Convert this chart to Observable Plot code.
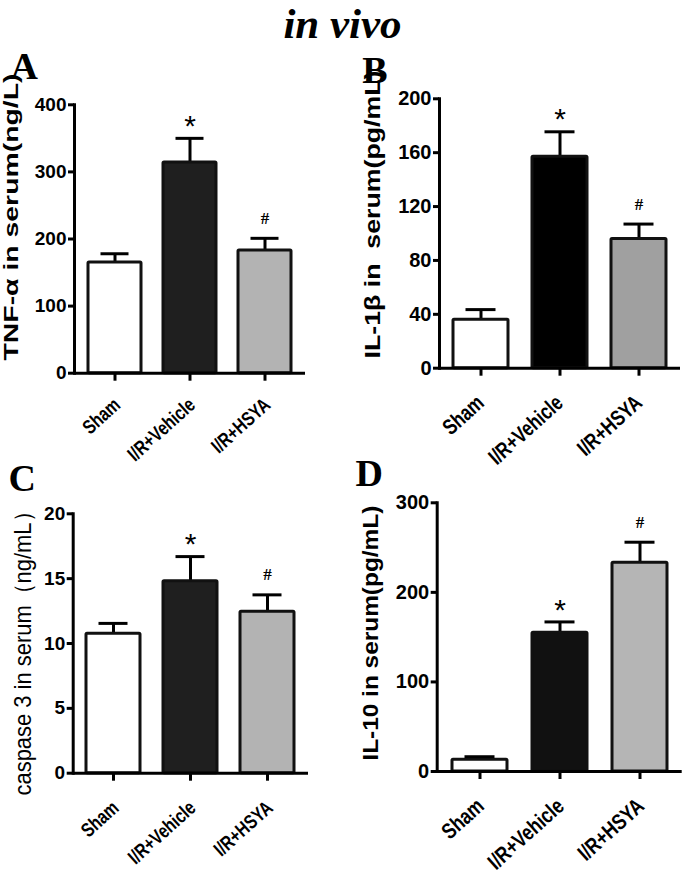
<!DOCTYPE html>
<html><head><meta charset="utf-8">
<script src="https://cdn.jsdelivr.net/npm/d3@7"></script>
<script src="https://cdn.jsdelivr.net/npm/@observablehq/plot@0.6"></script>
<style>
body{margin:0;background:#fff;}
#root{position:relative;width:685px;height:876px;overflow:hidden;font-family:"Liberation Sans",Arial,sans-serif;background:#fff;}
#title{position:absolute;left:0;width:685px;top:0;text-align:center;font:italic bold 43px/48px "Liberation Serif","Times New Roman",serif;color:#000;}
</style></head><body>
<div id="root"><div id="title">in vivo</div></div>
<script>
// ---- data ----
const groups = ["Sham", "I/R+Vehicle", "I/R+HSYA"];
const tnfMean = [165, 314, 183];
const tnfSem = [13, 36, 18];
const il1bMean = [36, 157, 96];
const il1bSem = [7.5, 18.5, 11];
const casp3Mean = [10.75, 14.8, 12.45];
const casp3Sem = [0.8, 1.9, 1.3];
const il10Mean = [13, 155, 233];
const il10Sem = [3.5, 12, 23];
const signif = ["", "*", "#"];
const tnfTicks = [0, 100, 200, 300, 400];
const il1bTicks = [0, 40, 80, 120, 160, 200];
const casp3Ticks = [0, 5, 10, 15, 20];
const il10Ticks = [0, 100, 200, 300];

// ---- layout / style ----
const panels = [
  {letter: "A", ylabel: "TNF-α in serum(ng/L)", mean: tnfMean, sem: tnfSem, ticks: tnfTicks,
   left: 0, top: 40, width: 340, height: 440, mt: 64.3, mb: 107.3, ml: 74, mr: 35, pi: 0.30, po: 0.184,
   fills: ["#ffffff", "#1f1f1f", "#b3b3b3"], tickFont: 19, xFont: 20, xScale: 0.78, xdx: -3, xdy: 23,
   yFont: 21, yWeight: "bold", yLen: 287, ydx: -63, ydy: -22, lx: 10, lBase: 78},
  {letter: "B", ylabel: "IL-1β in\u00a0 serum(pg/mL)", mean: il1bMean, sem: il1bSem, ticks: il1bTicks,
   left: 340, top: 40, width: 345, height: 440, mt: 58.3, mb: 112.3, ml: 99, mr: 5, pi: 0.305, po: 0.16,
   fills: ["#ffffff", "#000000", "#a0a0a0"], tickFont: 20, xFont: 22, xScale: 0.78, xdx: -6, xdy: 25,
   yFont: 22, yWeight: "bold", yLen: 288, ydx: -67, ydy: -19, lx: 21.7, lBase: 82},
  {letter: "C", ylabel: "caspase 3 in serum（ng/mL）", mean: casp3Mean, sem: casp3Sem, ticks: casp3Ticks,
   left: 0, top: 440, width: 340, height: 436, mt: 73.3, mb: 103.3, ml: 72.7, mr: 32, pi: 0.30, po: 0.17,
   fills: ["#ffffff", "#1f1f1f", "#b3b3b3"], tickFont: 19, xFont: 20, xScale: 0.78, xdx: -3, xdy: 26,
   yFont: 24, yWeight: "normal", yLen: 295, ydx: -50, ydy: 4.5, lx: 8, lBase: 490},
  {letter: "D", ylabel: "IL-10 in serum(pg/mL)", mean: il10Mean, sem: il10Sem, ticks: il10Ticks,
   left: 340, top: 440, width: 345, height: 436, mt: 62.3, mb: 105, ml: 96.7, mr: 3.3, pi: 0.317, po: 0.186,
   fills: ["#ffffff", "#111111", "#b5b5b5"], tickFont: 20, xFont: 22, xScale: 0.80, xdx: -5, xdy: 25,
   yFont: 22, yWeight: "bold", yLen: 255, ydx: -66.7, ydy: -4, lx: 15, lBase: 485}
];

const root = document.getElementById("root");

for (const p of panels) {
  const rows = groups.map((g, i) => ({g, mean: p.mean[i], upper: p.mean[i] + p.sem[i], sig: signif[i], fill: p.fills[i]}));
  const ticks = p.ticks;
  const ymax = ticks[ticks.length - 1];
  const svg = Plot.plot({
    width: p.width, height: p.height,
    marginTop: p.mt, marginBottom: p.mb, marginLeft: p.ml, marginRight: p.mr,
    style: `position:absolute;left:${p.left}px;top:${p.top}px;background:transparent;overflow:visible;font-family:'Liberation Sans',Arial,sans-serif;color:#000;`,
    x: {type: "band", domain: groups, paddingInner: p.pi, paddingOuter: p.po, align: 0.5, axis: null},
    y: {domain: [0, ymax], axis: null},
    color: {type: "identity"},
    marks: [
      Plot.ruleX(rows, {x: "g", y1: "mean", y2: "upper", stroke: "#000", strokeWidth: 3}),
      Plot.barY(rows, {x: "g", y: "mean", fill: "fill", stroke: "#111", strokeWidth: 3, rx: 1}),
      Plot.tickY(rows, {x: "g", y: "upper", stroke: "#000", strokeWidth: 3, insetLeft: 12.5, insetRight: 12.5}),
      Plot.text(rows.filter(d => d.sig === "*"), {x: "g", y: "upper", text: "sig", dy: -12, fontSize: 30, lineAnchor: "middle"}),
      Plot.text(rows.filter(d => d.sig === "#"), {x: "g", y: "upper", text: "sig", dy: -20, fontSize: 17, fontWeight: "bold", fontFamily: "'Liberation Serif','Times New Roman',serif", lineAnchor: "middle"}),
      Plot.frame({anchor: "left", stroke: "#000", strokeWidth: 3}),
      Plot.ruleY([0], {stroke: "#000", strokeWidth: 3}),
      Plot.axisY({ticks, tickSize: 6, tickPadding: 2, strokeWidth: 3, fontSize: p.tickFont, fontWeight: "bold", label: null, tickFormat: d => String(d)}),
      Plot.axisX({tickSize: 8, strokeWidth: 3, tickFormat: () => "", label: null}),
      Plot.text(groups, {x: d => d, text: d => d, frameAnchor: "bottom", rotate: -42, textAnchor: "end", lineAnchor: "top", dx: p.xdx, dy: p.xdy, fontSize: p.xFont, fontWeight: "bold"}),
      Plot.text([p.ylabel], {text: d => d, frameAnchor: "left", rotate: -90, textAnchor: "middle", lineAnchor: "middle", dx: p.ydx, dy: p.ydy, fontSize: p.yFont, fontWeight: p.yWeight}),
      Plot.text([p.letter], {text: d => d, frameAnchor: "top-left", textAnchor: "start", lineAnchor: "bottom", dx: p.lx - p.ml, dy: (p.lBase - p.top) - p.mt, fontSize: 38, fontWeight: "bold", fontFamily: "'Liberation Serif','Times New Roman',serif"})
    ]
  });
  root.appendChild(svg);
  // stretch the y-axis title along its length, as in the reference
  d3.select(svg).selectAll("text")
    .filter(function() { return this.textContent === p.ylabel; })
    .attr("textLength", p.yLen).attr("lengthAdjust", "spacingAndGlyphs");
  // condense the rotated category labels, as in the reference
  d3.select(svg).selectAll("text")
    .filter(function() { return groups.includes(this.textContent); })
    .each(function() {
      const w = this.getComputedTextLength();
      d3.select(this).attr("textLength", w * p.xScale).attr("lengthAdjust", "spacingAndGlyphs");
    });
}
</script>
</body></html>
